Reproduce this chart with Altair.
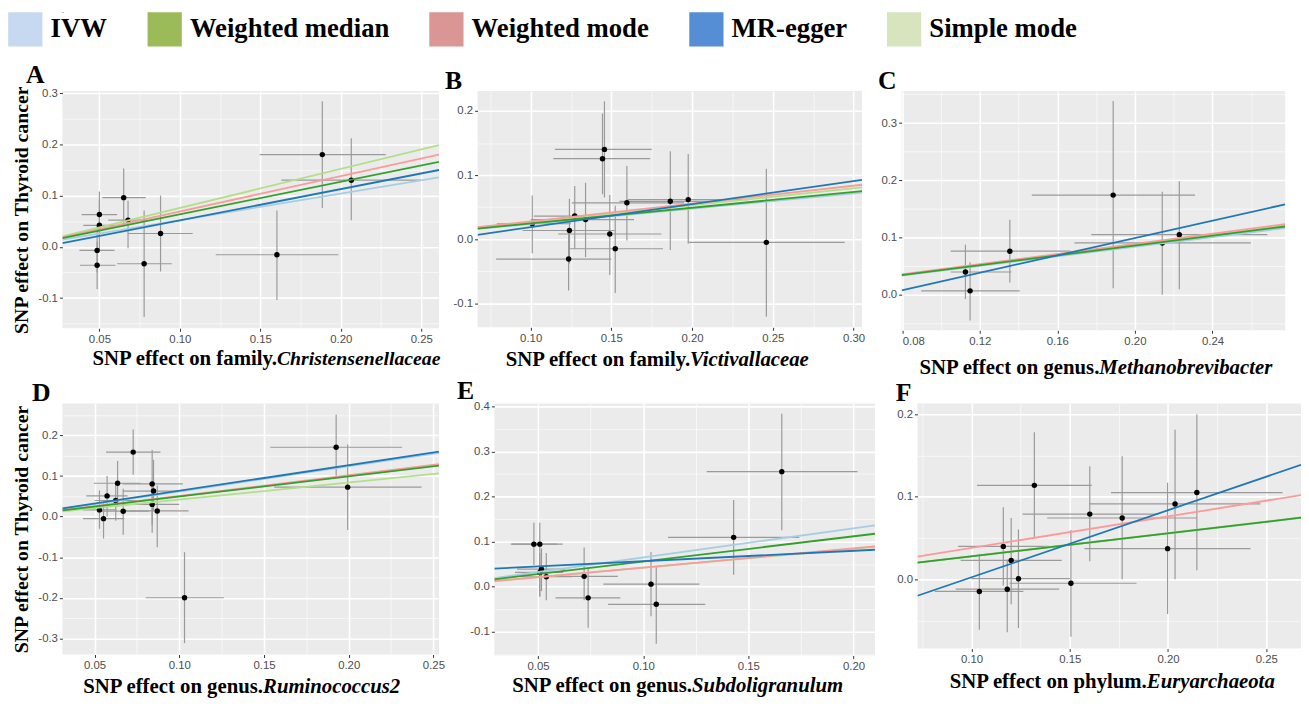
import altair as alt
import pandas as pd

# ---------------- data ----------------
METHODS = ["IVW", "Weighted median", "Weighted mode", "MR-egger", "Simple mode"]
LEGEND_COLORS = ["#c6d9f1", "#9bbb59", "#d99694", "#558ed5", "#d7e4bd"]
LINE_COLORS = ["#a6cee3", "#33a02c", "#fb9a99", "#1f78b4", "#b2df8a"]
LINE_ORDER = ["IVW", "Simple mode", "Weighted mode", "Weighted median", "MR-egger"]

PANELS = ["A", "B", "C", "D", "E", "F"]
X_PREFIX = ["SNP effect on family.", "SNP effect on family.", "SNP effect on genus.",
            "SNP effect on genus.", "SNP effect on genus.", "SNP effect on phylum."]
X_TAXON = ["Christensenellaceae", "Victivallaceae", "Methanobrevibacter",
           "Ruminococcus2", "Subdoligranulum", "Euryarchaeota"]
Y_TITLE = "SNP effect on Thyroid cancer"

# Panel A
A_bx = [0.050, 0.050, 0.0486, 0.0486, 0.0651, 0.0678, 0.0778, 0.088, 0.1603, 0.1885, 0.2065]
A_by = [0.063, 0.042, -0.007, -0.036, 0.096, 0.052, -0.033, 0.026, -0.0155, 0.180, 0.130]
A_xlo = [0.039, 0.040, 0.0376, 0.038, 0.0518, 0.0555, 0.061, 0.068, 0.1223, 0.1496, 0.163]
A_xhi = [0.061, 0.060, 0.0594, 0.060, 0.0788, 0.080, 0.095, 0.108, 0.1985, 0.2279, 0.250]
A_ylo = [0.018, -0.005, -0.050, -0.083, 0.040, -0.003, -0.137, -0.048, -0.104, 0.076, 0.052]
A_yhi = [0.108, 0.090, 0.040, 0.010, 0.153, 0.090, 0.071, 0.100, 0.071, 0.284, 0.212]
A_slope = [0.52, 0.635, 0.69, 0.611, 0.76]
A_icpt = [0.0, 0.0, 0.0, -0.0095, 0.0]

# Panel B
B_bx = [0.101, 0.124, 0.1235, 0.1273, 0.134, 0.1445, 0.1457, 0.149, 0.1524, 0.1596, 0.1865, 0.1976, 0.246]
B_by = [0.024, 0.0135, -0.031, 0.036, 0.0305, 0.1255, 0.140, 0.008, -0.015, 0.0567, 0.059, 0.0617, -0.005]
B_xlo = [0.079, 0.095, 0.0786, 0.102, 0.100, 0.114, 0.115, 0.117, 0.124, 0.1255, 0.155, 0.160, 0.198]
B_xhi = [0.125, 0.152, 0.150, 0.153, 0.164, 0.174, 0.175, 0.181, 0.182, 0.195, 0.218, 0.235, 0.2945]
B_ylo = [-0.022, -0.038, -0.080, -0.015, -0.028, 0.070, 0.065, -0.056, -0.084, -0.002, -0.017, -0.007, -0.121]
B_yhi = [0.068, 0.063, 0.0135, 0.083, 0.088, 0.196, 0.215, 0.069, 0.052, 0.114, 0.137, 0.133, 0.110]
B_slope = [0.238, 0.245, 0.278, 0.36, 0.265]
B_icpt = [0.0, 0.0, 0.0, -0.0174, 0.0]

# Panel C
C_bx = [0.1126, 0.115, 0.1355, 0.1888, 0.2141, 0.2229]
C_by = [0.0398, 0.0069, 0.0762, 0.1742, 0.0906, 0.105]
C_xlo = [0.105, 0.0898, 0.105, 0.1468, 0.1688, 0.1775]
C_xhi = [0.1363, 0.1406, 0.1668, 0.231, 0.2598, 0.2683]
C_ylo = [-0.0075, -0.045, 0.0213, 0.0115, 0.0, 0.0098]
C_yhi = [0.0877, 0.057, 0.131, 0.3387, 0.18, 0.1985]
C_slope = [0.42, 0.43, 0.445, 0.759, 0.435]
C_icpt = [0.0, 0.0, 0.0, -0.0526, 0.0]

# Panel D
D_bx = [0.0529, 0.0553, 0.0574, 0.0625, 0.0636, 0.0669, 0.0728, 0.084, 0.0848, 0.084, 0.087, 0.1031, 0.1926, 0.1994]
D_by = [0.0165, -0.005, 0.051, 0.0397, 0.0822, 0.0133, 0.159, 0.0806, 0.063, 0.0301, 0.014, -0.200, 0.171, 0.0726]
D_xlo = [0.043, 0.0432, 0.0451, 0.050, 0.0496, 0.052, 0.0568, 0.0665, 0.067, 0.066, 0.0675, 0.0802, 0.1537, 0.156]
D_xhi = [0.063, 0.0675, 0.0695, 0.075, 0.0772, 0.082, 0.0889, 0.1021, 0.103, 0.100, 0.1055, 0.1263, 0.2315, 0.243]
D_ylo = [-0.030, -0.054, 0.0, -0.010, 0.0245, -0.045, 0.103, -0.040, 0.015, -0.020, -0.0756, -0.312, 0.1006, -0.033]
D_yhi = [0.0646, 0.036, 0.100, 0.085, 0.137, 0.0685, 0.215, 0.164, 0.140, 0.080, 0.0766, -0.0876, 0.251, 0.178]
D_slope = [0.62, 0.497, 0.51, 0.631, 0.42]
D_icpt = [0.0, 0.0, 0.0, 0.0005, 0.0]

# Panel E
E_bx = [0.048, 0.0508, 0.0516, 0.0508, 0.0539, 0.0719, 0.0738, 0.1037, 0.1062, 0.143, 0.1659]
E_by = [0.0944, 0.0944, 0.0387, 0.0315, 0.022, 0.0228, -0.0249, 0.0055, -0.0393, 0.1095, 0.2555]
E_xlo = [0.037, 0.0375, 0.040, 0.039, 0.042, 0.057, 0.0583, 0.081, 0.0833, 0.1118, 0.1302]
E_xhi = [0.059, 0.0617, 0.063, 0.062, 0.066, 0.0879, 0.0891, 0.1267, 0.1295, 0.1742, 0.2019]
E_ylo = [0.048, -0.023, -0.010, -0.020, -0.030, -0.030, -0.0913, -0.066, -0.127, 0.0265, 0.1254]
E_yhi = [0.142, 0.142, 0.085, 0.075, 0.075, 0.087, 0.0423, 0.077, 0.046, 0.1926, 0.384]
E_slope = [0.648, 0.559, 0.425, 0.232, 0.42]
E_icpt = [0.0, 0.0, 0.0, 0.0332, 0.0]

# Panel F
F_bx = [0.104, 0.1162, 0.1182, 0.1202, 0.1239, 0.132, 0.1506, 0.1602, 0.1767, 0.1998, 0.2036, 0.2147]
F_by = [-0.0146, 0.0399, -0.0119, 0.0229, 0.0008, 0.1138, -0.0047, 0.079, 0.0743, 0.0372, 0.0913, 0.1051]
F_xlo = [0.0813, 0.0932, 0.092, 0.0945, 0.100, 0.1028, 0.1194, 0.126, 0.1385, 0.1575, 0.160, 0.171]
F_xhi = [0.1264, 0.1393, 0.1446, 0.1459, 0.150, 0.1612, 0.184, 0.195, 0.2147, 0.242, 0.247, 0.2583]
F_ylo = [-0.061, -0.0075, -0.064, -0.030, -0.0589, 0.0498, -0.0696, 0.022, 0.0, -0.042, 0.0, 0.011]
F_yhi = [0.031, 0.0874, 0.024, 0.0743, 0.0605, 0.178, 0.0597, 0.1368, 0.149, 0.117, 0.181, 0.200]
F_slope = [0.278, 0.279, 0.381, 0.812, 0.28]
F_icpt = [0.0, 0.0, 0.0, -0.0787, 0.0]

POINTS = {
    "A": (A_bx, A_by, A_xlo, A_xhi, A_ylo, A_yhi),
    "B": (B_bx, B_by, B_xlo, B_xhi, B_ylo, B_yhi),
    "C": (C_bx, C_by, C_xlo, C_xhi, C_ylo, C_yhi),
    "D": (D_bx, D_by, D_xlo, D_xhi, D_ylo, D_yhi),
    "E": (E_bx, E_by, E_xlo, E_xhi, E_ylo, E_yhi),
    "F": (F_bx, F_by, F_xlo, F_xhi, F_ylo, F_yhi),
}
FITS = {"A": (A_slope, A_icpt), "B": (B_slope, B_icpt), "C": (C_slope, C_icpt),
        "D": (D_slope, D_icpt), "E": (E_slope, E_icpt), "F": (F_slope, F_icpt)}

# axis domains and tick values (major + minor grid)
XDOM = {"A": [0.027, 0.261], "B": [0.0671, 0.3053], "C": [0.0797, 0.2775],
        "D": [0.031, 0.2533], "E": [0.0292, 0.2102], "F": [0.0725, 0.2677]}
YDOM = {"A": [-0.159, 0.304], "B": [-0.1375, 0.231], "C": [-0.062, 0.356],
        "D": [-0.340, 0.279], "E": [-0.153, 0.407], "F": [-0.0838, 0.213]}
XTICKS = {
    "A": [0.05, 0.075, 0.10, 0.125, 0.15, 0.175, 0.20, 0.225, 0.25],
    "B": [0.075, 0.10, 0.125, 0.15, 0.175, 0.20, 0.225, 0.25, 0.275, 0.30],
    "C": [0.08, 0.10, 0.12, 0.14, 0.16, 0.18, 0.20, 0.22, 0.24, 0.26],
    "D": [0.05, 0.075, 0.10, 0.125, 0.15, 0.175, 0.20, 0.225, 0.25],
    "E": [0.05, 0.075, 0.10, 0.125, 0.15, 0.175, 0.20],
    "F": [0.075, 0.10, 0.125, 0.15, 0.175, 0.20, 0.225, 0.25],
}
XMULT = {"A": 20, "B": 20, "C": 25, "D": 20, "E": 20, "F": 20}
YTICKS = {
    "A": [-0.15, -0.1, -0.05, 0.0, 0.05, 0.1, 0.15, 0.2, 0.25, 0.3],
    "B": [-0.1, -0.05, 0.0, 0.05, 0.1, 0.15, 0.2],
    "C": [-0.05, 0.0, 0.05, 0.1, 0.15, 0.2, 0.25, 0.3, 0.35],
    "D": [-0.3, -0.25, -0.2, -0.15, -0.1, -0.05, 0.0, 0.05, 0.1, 0.15, 0.2, 0.25],
    "E": [-0.15, -0.1, -0.05, 0.0, 0.05, 0.1, 0.15, 0.2, 0.25, 0.3, 0.35, 0.4],
    "F": [-0.05, 0.0, 0.05, 0.1, 0.15, 0.2],
}

# ---------------- layout / style ----------------
SIZE = {"A": (381, 240), "B": (389, 239), "C": (388, 242),
        "D": (381, 254), "E": (385, 255), "F": (388, 248)}
XTITLE_SPLIT = {"A": 217, "B": 215, "C": 200, "D": 203, "E": 200, "F": 232}
XTITLE_DY = {"A": 31, "B": 33, "C": 38, "D": 33, "E": 31, "F": 34}
TAXON_SIZE = {"A": 20, "B": 21, "C": 21, "D": 21, "E": 21, "F": 21}
LETTER_DX = {"A": 14, "B": -8, "C": -3, "D": 20, "E": -13, "F": -1}
LETTER_OFFSET = {"A": -3, "B": -3, "C": -3, "D": -3, "E": -3, "F": -3}
SERIF = "Liberation Serif"
SANS = "Liberation Sans Narrow, Liberation Sans"
BAR_COLOR = "#9a9a9a"


def make_axis(values, mult, fmt, title=None):
    major = f"abs(datum.value*{mult} - round(datum.value*{mult})) < 0.000001"
    kw = dict(
        values=values,
        tickCount=100,
        labelExpr=f"({major}) ? replace(format(datum.value, '{fmt}'), '\u2212', '-') : ''",
        gridWidth={"condition": {"test": major, "value": 1.6}, "value": 0.6},
        tickOpacity={"condition": {"test": major, "value": 1}, "value": 0},
    )
    if title is None:
        kw["title"] = None
    else:
        kw.update(title=title, titleFont=SERIF, titleFontSize=20, titleFontWeight="bold",
                  titleColor="#000000", titlePadding=6)
    return alt.Axis(**kw)


def panel(p):
    bx, by, xlo, xhi, ylo, yhi = POINTS[p]
    pts = pd.DataFrame({"bx": bx, "by": by, "xlo": xlo, "xhi": xhi, "ylo": ylo, "yhi": yhi})
    slope, icpt = FITS[p]
    fit = pd.DataFrame({"method": METHODS, "slope": slope, "intercept": icpt})
    fit["ord"] = [LINE_ORDER.index(m) for m in METHODS]
    fit = fit.sort_values("ord")
    x0, x1 = XDOM[p]
    w, h = SIZE[p]
    xs = alt.Scale(domain=XDOM[p], nice=False, zero=False)
    ys = alt.Scale(domain=YDOM[p], nice=False, zero=False)
    xaxis = make_axis(XTICKS[p], XMULT[p], ".2f")
    yaxis = make_axis(YTICKS[p], 10, ".1f", Y_TITLE if p in ("A", "D") else None)

    base = alt.Chart(pts)
    hbar = base.mark_rule(color=BAR_COLOR, strokeWidth=1.2).encode(
        x=alt.X("xlo:Q", scale=xs, axis=xaxis), x2="xhi:Q",
        y=alt.Y("by:Q", scale=ys, axis=yaxis))
    vbar = base.mark_rule(color=BAR_COLOR, strokeWidth=1.2).encode(
        x="bx:Q", y="ylo:Q", y2="yhi:Q")
    dots = base.mark_circle(size=30, color="#000000", opacity=1).encode(x="bx:Q", y="by:Q")
    fits = alt.Chart(fit).transform_calculate(
        xa=f"{x0}", xb=f"{x1}",
        ya=f"datum.slope*{x0}+datum.intercept",
        yb=f"datum.slope*{x1}+datum.intercept",
    ).mark_rule(strokeWidth=1.8, clip=True).encode(
        x="xa:Q", x2="xb:Q", y="ya:Q", y2="yb:Q",
        stroke=alt.Stroke("method:N", scale=alt.Scale(domain=METHODS, range=LINE_COLORS), legend=None),
    )
    t1 = alt.Chart(pd.DataFrame({"t": [X_PREFIX[PANELS.index(p)]]})).mark_text(
        align="right", baseline="middle", font=SERIF, fontSize=21, fontWeight="bold", color="#000000"
    ).encode(text="t:N", x=alt.value(XTITLE_SPLIT[p]), y=alt.value(h + XTITLE_DY[p]))
    t2 = alt.Chart(pd.DataFrame({"t": [X_TAXON[PANELS.index(p)]]})).mark_text(
        align="left", baseline="middle", font=SERIF, fontSize=TAXON_SIZE[p], fontWeight="bold",
        fontStyle="italic", color="#000000"
    ).encode(text="t:N", x=alt.value(XTITLE_SPLIT[p]), y=alt.value(h + XTITLE_DY[p]))

    return alt.layer(hbar, vbar, dots, fits, t1, t2).properties(
        width=w, height=h,
        title=alt.TitleParams(text=p, anchor="start", frame="bounds", dx=LETTER_DX[p],
                              offset=LETTER_OFFSET[p],
                              font=SERIF, fontSize=26, fontWeight="bold", color="#000000"),
    )


legend_chart = alt.Chart(pd.DataFrame({"method": METHODS})).mark_square(
    size=1200, opacity=1, clip=True
).encode(
    fill=alt.Fill("method:N", scale=alt.Scale(domain=METHODS, range=LEGEND_COLORS),
                  legend=alt.Legend(title=None, orient="none", legendX=-55, legendY=0,
                                    direction="horizontal", columns=5,
                                    symbolType="square", symbolSize=1200, symbolStrokeWidth=0,
                                    labelFont=SERIF, labelFontSize=27, labelFontWeight="bold",
                                    labelColor="#000000", labelLimit=400, columnPadding=40,
                                    labelOffset=8, padding=0))
).properties(width=1, height=1, view=alt.ViewBackground(fill="#FFFFFF", strokeWidth=0))

row1 = alt.hconcat(alt.hconcat(panel("A"), panel("B"), spacing=4), panel("C"), spacing=13)
row2 = alt.hconcat(alt.hconcat(panel("D"), panel("E"), spacing=12), panel("F"), spacing=21)
grid = alt.vconcat(row1, row2, spacing=0)
chart = alt.vconcat(legend_chart, grid, spacing=16).resolve_legend(
    fill="independent", stroke="independent"
).properties(
    padding={"left": 0, "top": 0, "right": 0, "bottom": 0}
).configure_view(fill="#EBEBEB", strokeWidth=0).configure_axis(
    domain=False, gridColor="#FFFFFF", tickColor="#333333", tickSize=3, tickWidth=1,
    labelColor="#4D4D4D", labelFont=SANS, labelFontSize=11.5, labelPadding=2,
).configure_concat(spacing=0)

chart.save("out.html", embed_options={"renderer": "svg", "actions": False})
